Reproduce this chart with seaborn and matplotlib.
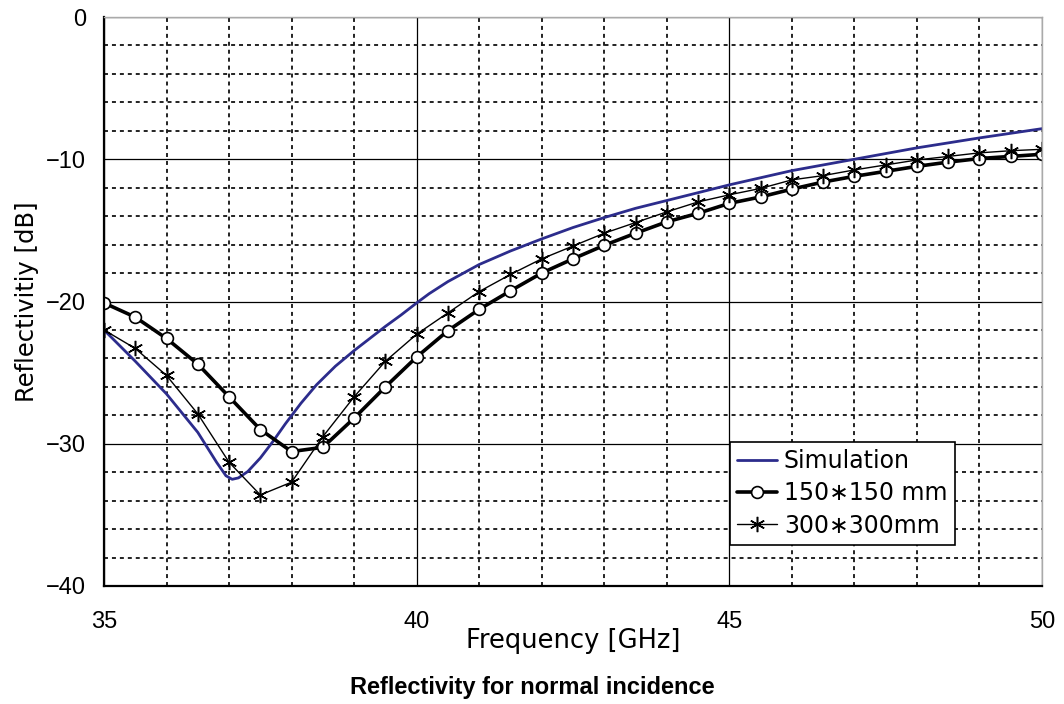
import matplotlib
matplotlib.use("Agg")
import matplotlib.pyplot as plt
import seaborn as sns
from matplotlib.ticker import MultipleLocator

# ---- data ----
freq_sim = [35.0, 35.5, 36.0, 36.5, 36.8, 36.95, 37.05, 37.15, 37.3, 37.5, 37.7, 37.9, 38.15,
            38.4, 38.7, 39.0, 39.25, 39.5, 39.75, 40.0, 40.2, 40.5, 41.0, 41.5, 42.0, 42.5,
            43.0, 43.5, 44.0, 44.5, 45.0, 46.0, 47.0, 48.0, 49.0, 50.0]
refl_sim = [-22.0, -24.2, -26.5, -29.2, -31.3, -32.25, -32.5, -32.4, -31.95, -31.0, -29.85,
            -28.6, -27.15, -25.85, -24.55, -23.45, -22.6, -21.75, -20.95, -20.1, -19.45,
            -18.6, -17.4, -16.45, -15.6, -14.8, -14.1, -13.45, -12.9, -12.35, -11.8,
            -10.8, -10.0, -9.2, -8.5, -7.85]

freq_meas = [35, 35.5, 36, 36.5, 37, 37.5, 38, 38.5, 39, 39.5, 40, 40.5, 41, 41.5, 42, 42.5,
             43, 43.5, 44, 44.5, 45, 45.5, 46, 46.5, 47, 47.5, 48, 48.5, 49, 49.5, 50]
refl_150 = [-20.1, -21.1, -22.6, -24.4, -26.7, -29.0, -30.55, -30.25, -28.2, -26.0, -23.9,
            -22.05, -20.55, -19.25, -18.0, -17.0, -16.05, -15.2, -14.4, -13.8, -13.1,
            -12.65, -12.1, -11.6, -11.2, -10.85, -10.5, -10.2, -9.95, -9.8, -9.65]
refl_300 = [-22.0, -23.3, -25.2, -27.9, -31.3, -33.6, -32.7, -29.5, -26.7, -24.2, -22.3,
            -20.8, -19.3, -18.1, -17.0, -16.1, -15.2, -14.45, -13.7, -13.0, -12.5,
            -12.05, -11.45, -11.15, -10.75, -10.4, -10.05, -9.8, -9.55, -9.4, -9.3]

labels = ["Simulation", "150\u2217150 mm", "300\u2217300mm"]
x_ticks = [35, 40, 45, 50]
y_ticks = [0, -10, -20, -30, -40]
y_tick_labels = ["0", "\u221210", "\u221220", "\u221230", "\u221240"]

# ---- style ----
sns.set_style("white")
plt.rcParams['font.family'] = ['Liberation Sans', 'DejaVu Sans']
plt.rcParams['text.color'] = 'black'
plt.rcParams['axes.labelcolor'] = 'black'
plt.rcParams['xtick.color'] = 'black'
plt.rcParams['ytick.color'] = 'black'

fig = plt.figure(figsize=(10.64, 7.04), dpi=100)
ax = fig.add_axes([104/1064, 1-586/704, (1042-104)/1064, (586-17)/704])

sns.lineplot(x=freq_sim, y=refl_sim, ax=ax, color="#2c2c8c", lw=2.0,
             estimator=None, sort=False, label=labels[0])
sns.lineplot(x=freq_meas, y=refl_150, ax=ax, color="black", lw=2.6,
             marker="o", markersize=8.5, markerfacecolor="white",
             markeredgecolor="black", markeredgewidth=1.2,
             estimator=None, sort=False, label=labels[1])
sns.lineplot(x=freq_meas, y=refl_300, ax=ax, color="black", lw=1.0,
             marker=(6, 2, 0), markersize=11, markeredgecolor="black",
             markeredgewidth=1.1,
             estimator=None, sort=False, label=labels[2])

ax.set_xlim(35, 50)
ax.set_ylim(-40, 0)
ax.set_xticks(x_ticks)
ax.set_yticks(y_ticks)
ax.set_yticklabels(y_tick_labels)
ax.xaxis.set_minor_locator(MultipleLocator(1))
ax.yaxis.set_minor_locator(MultipleLocator(2))
ax.grid(which="major", color="black", lw=0.9, ls="-")
ax.grid(which="minor", color="#111111", lw=1.3, ls=(0, (2.2, 2.2)))
ax.set_axisbelow(True)
ax.tick_params(which="both", length=0)
ax.tick_params(axis="x", pad=18, labelsize=17, labelcolor="black")
ax.tick_params(axis="y", pad=13, labelsize=17, labelcolor="black")

for side in ["left", "bottom"]:
    ax.spines[side].set_color("black")
    ax.spines[side].set_linewidth(1.6)
for side in ["top", "right"]:
    ax.spines[side].set_color("#aaaaaa")
    ax.spines[side].set_linewidth(1.0)

ax.set_xlabel("Frequency [GHz]", fontsize=18.5, family=["DejaVu Sans"], color="black")
ax.xaxis.set_label_coords(0.5, -0.073)
ax.set_ylabel("Reflectivitiy [dB]", fontsize=17.5, family=["DejaVu Sans"], color="black")
ax.yaxis.set_label_coords(-0.069, 0.5)

leg = ax.legend(loc="upper left", bbox_to_anchor=(0.667, 0.253),
                prop={"family": ["DejaVu Sans"], "size": 17},
                frameon=True, fancybox=False, edgecolor="black", framealpha=1,
                borderpad=0.3, labelspacing=0.35, handlelength=1.7, handletextpad=0.3,
                borderaxespad=0)
leg.get_frame().set_linewidth(1.2)
for t in leg.get_texts():
    t.set_color("black")

fig.text(0.5, 0.023, "Reflectivity for normal incidence", ha="center", va="center",
         fontsize=17, fontweight="bold", color="black",
         family=["Liberation Sans", "DejaVu Sans"])

fig.savefig("out.png", dpi=100, facecolor="white")
